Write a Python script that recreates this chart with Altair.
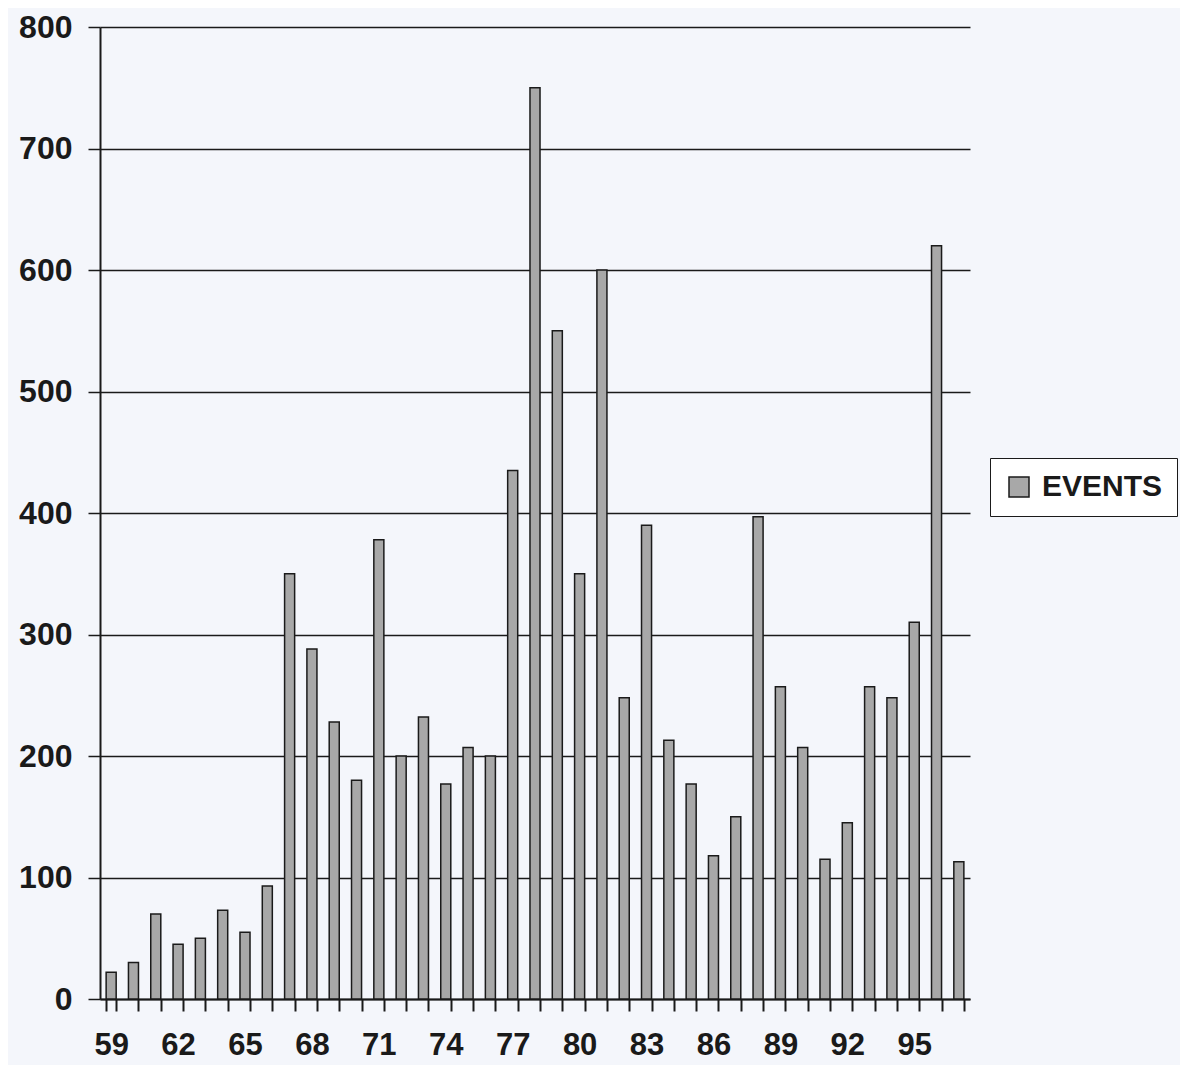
import altair as alt
import pandas as pd

years = list(range(59, 98))
events = [22, 30, 70, 45, 50, 73, 55, 93, 350, 288,
          228, 180, 378, 200, 232, 177, 207, 200, 435, 750,
          550, 350, 600, 248, 390, 213, 177, 118, 150, 397,
          257, 207, 115, 145, 257, 248, 310, 620, 113]
series = ["EVENTS"] * len(years)

df = pd.DataFrame({"year": years, "events": events, "series": series})

W, H = 870, 972
FONT = "Liberation Sans"

chart = alt.Chart(df).mark_bar(
    stroke="#1a1a1a", strokeWidth=1.5
).encode(
    x=alt.X("year:O",
            scale=alt.Scale(paddingInner=0.55, paddingOuter=0.275),
            axis=alt.Axis(title=None, labelAngle=0, tickBand="extent",
                          labelExpr="(datum.value - 59) % 3 == 0 ? datum.label : ''",
                          labelFont=FONT, labelFontSize=31, labelFontWeight="bold",
                          labelColor="#1a1a1a", labelPadding=19, tickSize=12,
                          tickColor="#1a1a1a", tickWidth=2, domainColor="#1a1a1a",
                          domainWidth=2, labelOverlap=False)),
    y=alt.Y("events:Q",
            scale=alt.Scale(domain=[0, 800], nice=False),
            axis=alt.Axis(title=None, values=list(range(0, 801, 100)),
                          labelFont=FONT, labelFontSize=32, labelFontWeight="bold",
                          labelColor="#1a1a1a", labelPadding=16, tickSize=12,
                          tickColor="#1a1a1a", tickWidth=1.5, domainColor="#1a1a1a",
                          domainWidth=2, grid=True, gridColor="#1a1a1a",
                          gridWidth=1.5)),
    fill=alt.Fill("series:N",
                  scale=alt.Scale(range=["#a8a8a8"]),
                  legend=alt.Legend(title=None, orient="none",
                                    legendX=890, legendY=431,
                                    symbolType="square", symbolSize=400,
                                    symbolStrokeColor="#1a1a1a", symbolStrokeWidth=1.5,
                                    labelFont=FONT, labelFontSize=30,
                                    labelFontWeight="bold", labelColor="#1a1a1a",
                                    labelOffset=8, padding=14,
                                    strokeColor="#1a1a1a", fillColor="#ffffff")),
).properties(
    width=W, height=H,
    autosize=alt.AutoSizeParams(type="none"),
    padding={"left": 92, "top": 19, "right": 210, "bottom": 66},
    background="#f4f6fb",
).configure_view(stroke=None)

chart.save("out.html", embed_options={"renderer": "svg", "actions": False})
